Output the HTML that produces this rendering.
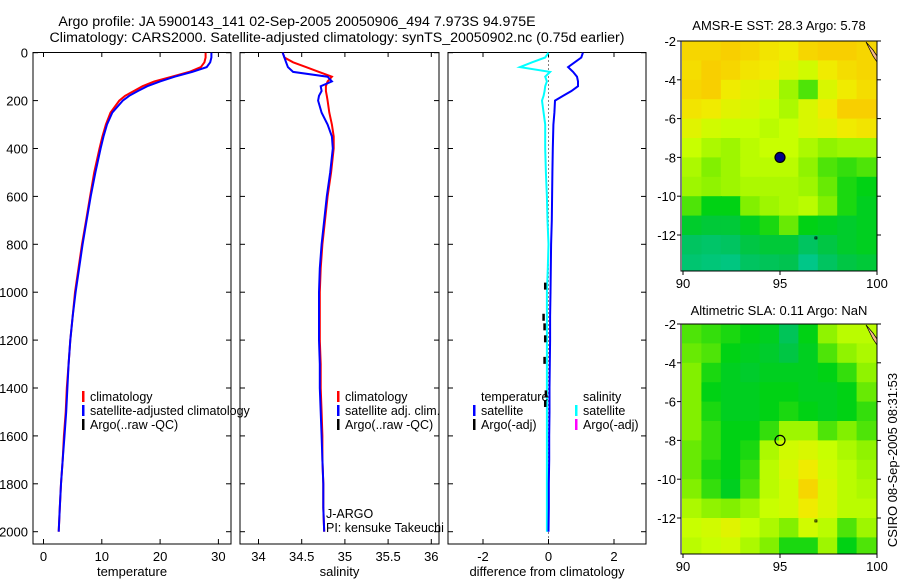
<!DOCTYPE html>
<html><head><meta charset="utf-8"><style>
body{margin:0;background:#fff;}
svg text{font-family:"Liberation Sans",sans-serif;fill:#000;}
</style></head><body>
<svg id="fig" width="900" height="580" xmlns="http://www.w3.org/2000/svg">
<text x="297" y="26" font-size="14.2" text-anchor="middle">Argo profile: JA 5900143_141 02-Sep-2005 20050906_494 7.973S 94.975E</text>
<text x="337" y="42" font-size="14.2" text-anchor="middle">Climatology: CARS2000. Satellite-adjusted climatology: synTS_20050902.nc (0.75d earlier)</text>
<g id="panels"></g>
<text x="779" y="30" font-size="13" text-anchor="middle">AMSR-E SST: 28.3 Argo: 5.78</text>
<text x="779" y="315" font-size="13" text-anchor="middle">Altimetric SLA: 0.11 Argo: NaN</text>
<text transform="translate(897,460) rotate(-90)" font-size="13" text-anchor="middle">CSIRO 08-Sep-2005 08:31:53</text>
</svg>
<script>
const depths=[0,20,40,60,80,100,120,140,160,180,200,250,300,350,400,500,600,700,800,900,1000,1100,1200,1300,1400,1500,1600,1700,1800,1900,2000];
const tempClim=[27.8,27.8,27.6,27,25,22,19,17,15.5,14,13,11.5,10.7,10.1,9.6,8.7,8.0,7.3,6.6,6.0,5.4,5.0,4.6,4.3,4.0,3.8,3.5,3.3,3.0,2.8,2.6];
const tempSat=[28.8,28.8,28.6,28,25.5,22.5,20,17.8,16.2,14.7,13.6,11.8,10.9,10.3,9.8,8.9,8.1,7.4,6.7,6.1,5.5,5.0,4.6,4.3,4.1,3.9,3.6,3.3,3.0,2.8,2.6];
const salClim=[34.28,34.3,34.4,34.55,34.7,34.85,34.8,34.78,34.78,34.79,34.8,34.82,34.85,34.87,34.87,34.84,34.8,34.77,34.74,34.72,34.71,34.71,34.71,34.72,34.72,34.73,34.74,34.74,34.75,34.75,34.76];
const salSat=[34.28,34.3,34.32,34.34,34.4,34.8,34.85,34.72,34.73,34.7,34.69,34.73,34.8,34.85,34.86,34.83,34.79,34.76,34.73,34.71,34.7,34.7,34.7,34.71,34.71,34.72,34.73,34.74,34.75,34.75,34.76];
const tempDiff=[1.05,1.0,0.8,0.6,0.75,0.87,0.9,0.9,0.7,0.45,0.2,0.18,0.15,0.14,0.13,0.12,0.11,0.1,0.08,0.07,0.06,0.05,0.05,0.04,0.03,0.03,0.02,0.02,0.01,0.01,0.0];
const salDiff=[0,-0.1,-0.5,-0.87,0.05,-0.1,-0.05,-0.1,-0.12,-0.15,-0.2,-0.15,-0.1,-0.1,-0.1,-0.08,-0.05,-0.03,0,-0.02,-0.05,-0.05,-0.05,-0.05,-0.05,-0.05,-0.05,-0.05,-0.05,-0.05,-0.05];
const depthTicks=[0,200,400,600,800,1000,1200,1400,1600,1800,2000];
const tempTicks=[0,10,20,30];
const salTicks=[34,34.5,35,35.5,36];
const diffTicks=[-2,0,2];
const sstGrid=[
[3.3,3.3,3.4,3.3,3.1,3.0,3.3,3.4,3.4,3.3],
[3.2,3.4,3.3,3.1,3.0,2.8,2.6,3.0,3.2,3.3],
[3.3,3.4,3.0,2.8,2.7,2.2,1.8,2.7,3.0,3.2],
[3.1,3.0,2.8,2.7,2.5,2.3,2.7,3.0,3.4,3.4],
[2.8,2.6,2.5,2.5,2.4,2.5,2.7,2.8,3.0,3.1],
[2.5,2.3,2.2,2.4,2.5,2.5,2.3,2.1,2.2,2.2],
[2.3,2.0,2.2,2.4,2.4,2.4,2.1,1.8,1.7,1.8],
[2.2,2.1,2.2,2.3,2.3,2.3,2.2,1.9,1.6,1.5],
[1.8,1.5,1.5,2.0,2.2,2.3,2.4,2.0,1.6,1.4],
[1.3,1.2,1.2,1.4,1.6,1.9,1.5,1.4,1.3,1.4],
[0.8,0.7,0.8,1.1,1.2,1.2,0.8,1.1,1.3,1.4],
[0.6,0.5,0.4,0.8,0.9,1,0.3,0.8,1.1,1.2]];
const slaGrid=[
[1.8,1.7,1.6,1.5,1.4,0.9,1.5,2.1,2.4,2.4],
[1.9,1.8,1.5,1.4,1.3,1.1,1.4,1.8,2.1,2.3],
[2.0,1.6,1.4,1.3,1.4,1.4,1.4,1.5,1.7,2.1],
[2.0,1.5,1.4,1.4,1.5,1.5,1.4,1.4,1.5,1.9],
[2.0,1.6,1.4,1.4,1.5,1.6,1.5,1.4,1.5,1.7],
[2.0,1.7,1.5,1.5,1.7,2.2,2.2,1.8,2.0,1.8],
[1.9,1.7,1.5,1.6,2.3,2.6,2.7,2.5,2.3,2.1],
[1.9,1.6,1.5,1.7,2.4,2.7,3.0,2.6,2.4,2.2],
[2.0,1.7,1.4,1.8,2.4,2.6,3.3,2.7,2.4,2.3],
[2.3,2.1,2.0,2.2,2.5,2.6,3.0,2.7,2.4,2.4],
[2.5,2.6,2.8,2.5,2.3,2.0,2.6,2.4,1.8,2.2],
[2.4,2.5,2.6,2.3,2.0,1.6,1.6,2.2,1.5,1.8]];
const lonTicks=[90,95,100];
const latTicks=[-2,-4,-6,-8,-10,-12];
const argoLon=95, argoLat=-8;

const NS="http://www.w3.org/2000/svg";
const root=document.getElementById('panels');
function mk(tag,attrs,parent){const e=document.createElementNS(NS,tag);for(const k in attrs)e.setAttribute(k,attrs[k]);(parent||root).appendChild(e);return e;}
function txt(x,y,s,size,anchor,parent){const t=mk('text',{x:x,y:y,'font-size':size,'text-anchor':anchor||'start'},parent);t.textContent=s;return t;}
const yD=d=>52.7+d*0.2395;
const PT=544;
function panel(name,x0,x1,xs,ticks,label,showY){
  const g=mk('g',{});
  
  
  const r=mk('rect',{x:x0,y:52.5,width:x1-x0,height:PT-52.5,fill:'none',stroke:'#000','stroke-width':1},g);
  
  
  ticks.forEach(v=>{const x=xs(v);
    mk('line',{x1:x,x2:x,y1:52.5,y2:57,stroke:'#000'},g);mk('line',{x1:x,x2:x,y1:PT,y2:PT-5,stroke:'#000'},g);
    const t=txt(x,561,String(v),13,'middle',g);
    
    });
  depthTicks.forEach(d=>{const y=yD(d);
    mk('line',{x1:x0,x2:x0+5,y1:y,y2:y,stroke:'#000'},g);mk('line',{x1:x1,x2:x1-5,y1:y,y2:y,stroke:'#000'},g);
    if(showY){const t=txt(28,y+5,String(d),13,'end',g);
      
      }});
  const l=txt((x0+x1)/2,576,label,13,'middle',g);
  
  
  return g;
}
function line(g,vals,xs,color,w,nm){
  const pts=vals.map((v,i)=>xs(v).toFixed(1)+','+yD(depths[i]).toFixed(1)).join(' ');
  const p=mk('polyline',{points:pts,fill:'none',stroke:color,'stroke-width':w},g);
  
  
}
function legend(g,x,y,color,label){
  mk('rect',{x:x,y:y-9,width:2.5,height:11,fill:color},g);
  const t=txt(x+8,y+1,label,12.5,'start',g);
  
  
}
const xT=v=>43.5+v*5.83;
const g1=panel('temperature-panel',33,231,xT,tempTicks,'temperature',true);
line(g1,tempClim,xT,'#f00',2,'temp-climatology-line');
line(g1,tempSat,xT,'#00f',2,'temp-satellite-line');
legend(g1,82,400,'#f00','climatology');
legend(g1,82,414,'#00f','satellite-adjusted climatology');
legend(g1,82,428,'#000','Argo(..raw -QC)');
const xS=v=>258.5+(v-34)*86.4;
const g2=panel('salinity-panel',240,439,xS,salTicks,'salinity',false);
line(g2,salClim,xS,'#f00',2,'sal-climatology-line');
line(g2,salSat,xS,'#00f',2,'sal-satellite-line');
legend(g2,337,400,'#f00','climatology');
legend(g2,337,414,'#00f','satellite adj. clim.');
legend(g2,337,428,'#000','Argo(..raw -QC)');
let t1=txt(326,518,'J-ARGO',12.5,'start',g2);

let t2=txt(326,532,'PI: kensuke Takeuchi',12.5,'start',g2);

const xDf=v=>548.5+v*32.75;
const g3=panel('difference-panel',448,646,xDf,diffTicks,'difference from climatology',false);
mk('line',{x1:xDf(0),x2:xDf(0),y1:52.5,y2:PT,stroke:'#000','stroke-dasharray':'1,3'},g3);
line(g3,salDiff,xDf,'#0ff',2,'sal-diff-line');
line(g3,tempDiff,xDf,'#00f',2,'temp-diff-line');
[[960,-0.1],[1090,-0.15],[1130,-0.12],[1180,-0.1],[1270,-0.12],[1410,-0.08],[1450,-0.1]].forEach(a=>{
  mk('line',{x1:xDf(a[1]),x2:xDf(a[1]),y1:yD(a[0]),y2:yD(a[0])+7,stroke:'#000','stroke-width':2.5},g3);});
let th=txt(481,401,'temperature',12.5,'start',g3);

let sh=txt(583,401,'salinity',12.5,'start',g3);

legend(g3,473,414,'#00f','satellite');
legend(g3,473,428,'#000','Argo(-adj)');
legend(g3,575,414,'#0ff','satellite');
legend(g3,575,428,'#f0f','Argo(-adj)');
const stops=[[0,[0,200,160]],[1,[0,195,80]],[1.5,[0,210,20]],[2,[130,240,0]],[2.5,[200,255,0]],[3,[240,235,0]],[3.5,[250,200,0]],[4,[250,170,0]]];
function cmap(v){for(let i=1;i<stops.length;i++){if(v<=stops[i][0]){const a=stops[i-1],b=stops[i];const f=(v-a[0])/(b[0]-a[0]);
  const c=a[1].map((q,k)=>Math.round(q+(b[1][k]-q)*Math.max(0,f)));return 'rgb('+c.join(',')+')';}}return 'rgb(250,170,0)';}
function map(name,grid,top,filled){
  const g=mk('g',{});
  
  
  const xL=lon=>683+(lon-90)*19.4, yL=lat=>top+(-2-lat)*19.4;
  const x0=681,x1=877,bot=top+230;
  const cid=name+'-clip';
  const cp=mk('clipPath',{id:cid},g);mk('rect',{x:x0,y:top,width:x1-x0,height:bot-top},cp);
  const cg=mk('g',{'clip-path':'url(#'+cid+')'},g);
  grid.forEach((row,r)=>row.forEach((v,c)=>{
    const cell=mk('rect',{x:xL(90+c)-1,y:yL(-2-r),width:20.4,height:20.4,fill:cmap(v)},cg);
    
    }));
  mk('path',{d:'M866 '+(top+1)+' L873 '+(top+9)+' L877 '+(top+15)+' L877 '+(top+21)+' L873 '+(top+15)+' Z',fill:'#f5b98a',stroke:'#000','stroke-width':0.7},cg);
  mk('rect',{x:x0,y:top,width:x1-x0,height:bot-top,fill:'none',stroke:'#000'},g);
  lonTicks.forEach(l=>{const x=xL(l);mk('line',{x1:x,x2:x,y1:bot,y2:bot+4,stroke:'#000'},g);
    const t=txt(x,bot+17,String(l),13,'middle',g);});
  latTicks.forEach(l=>{const y=yL(l);mk('line',{x1:x0-4,x2:x0,y1:y,y2:y,stroke:'#000'},g);mk('line',{x1:x1,x2:x1+4,y1:y,y2:y,stroke:'#000'},g);
    const t=txt(x0-5,y+5,String(l),13,'end',g);});
  const m=mk('circle',{cx:xL(argoLon),cy:yL(argoLat),r:5,fill:filled?'#00008b':'none',stroke:'#000','stroke-width':1.2},g);
  
  
  mk('rect',{x:xL(96.8),y:yL(-12.1),width:2,height:2,fill:'none',stroke:'#000','stroke-width':0.8},g);
}
map('sst-map',sstGrid,41,true);
map('sla-map',slaGrid,324,false);
</script>
</body></html>
